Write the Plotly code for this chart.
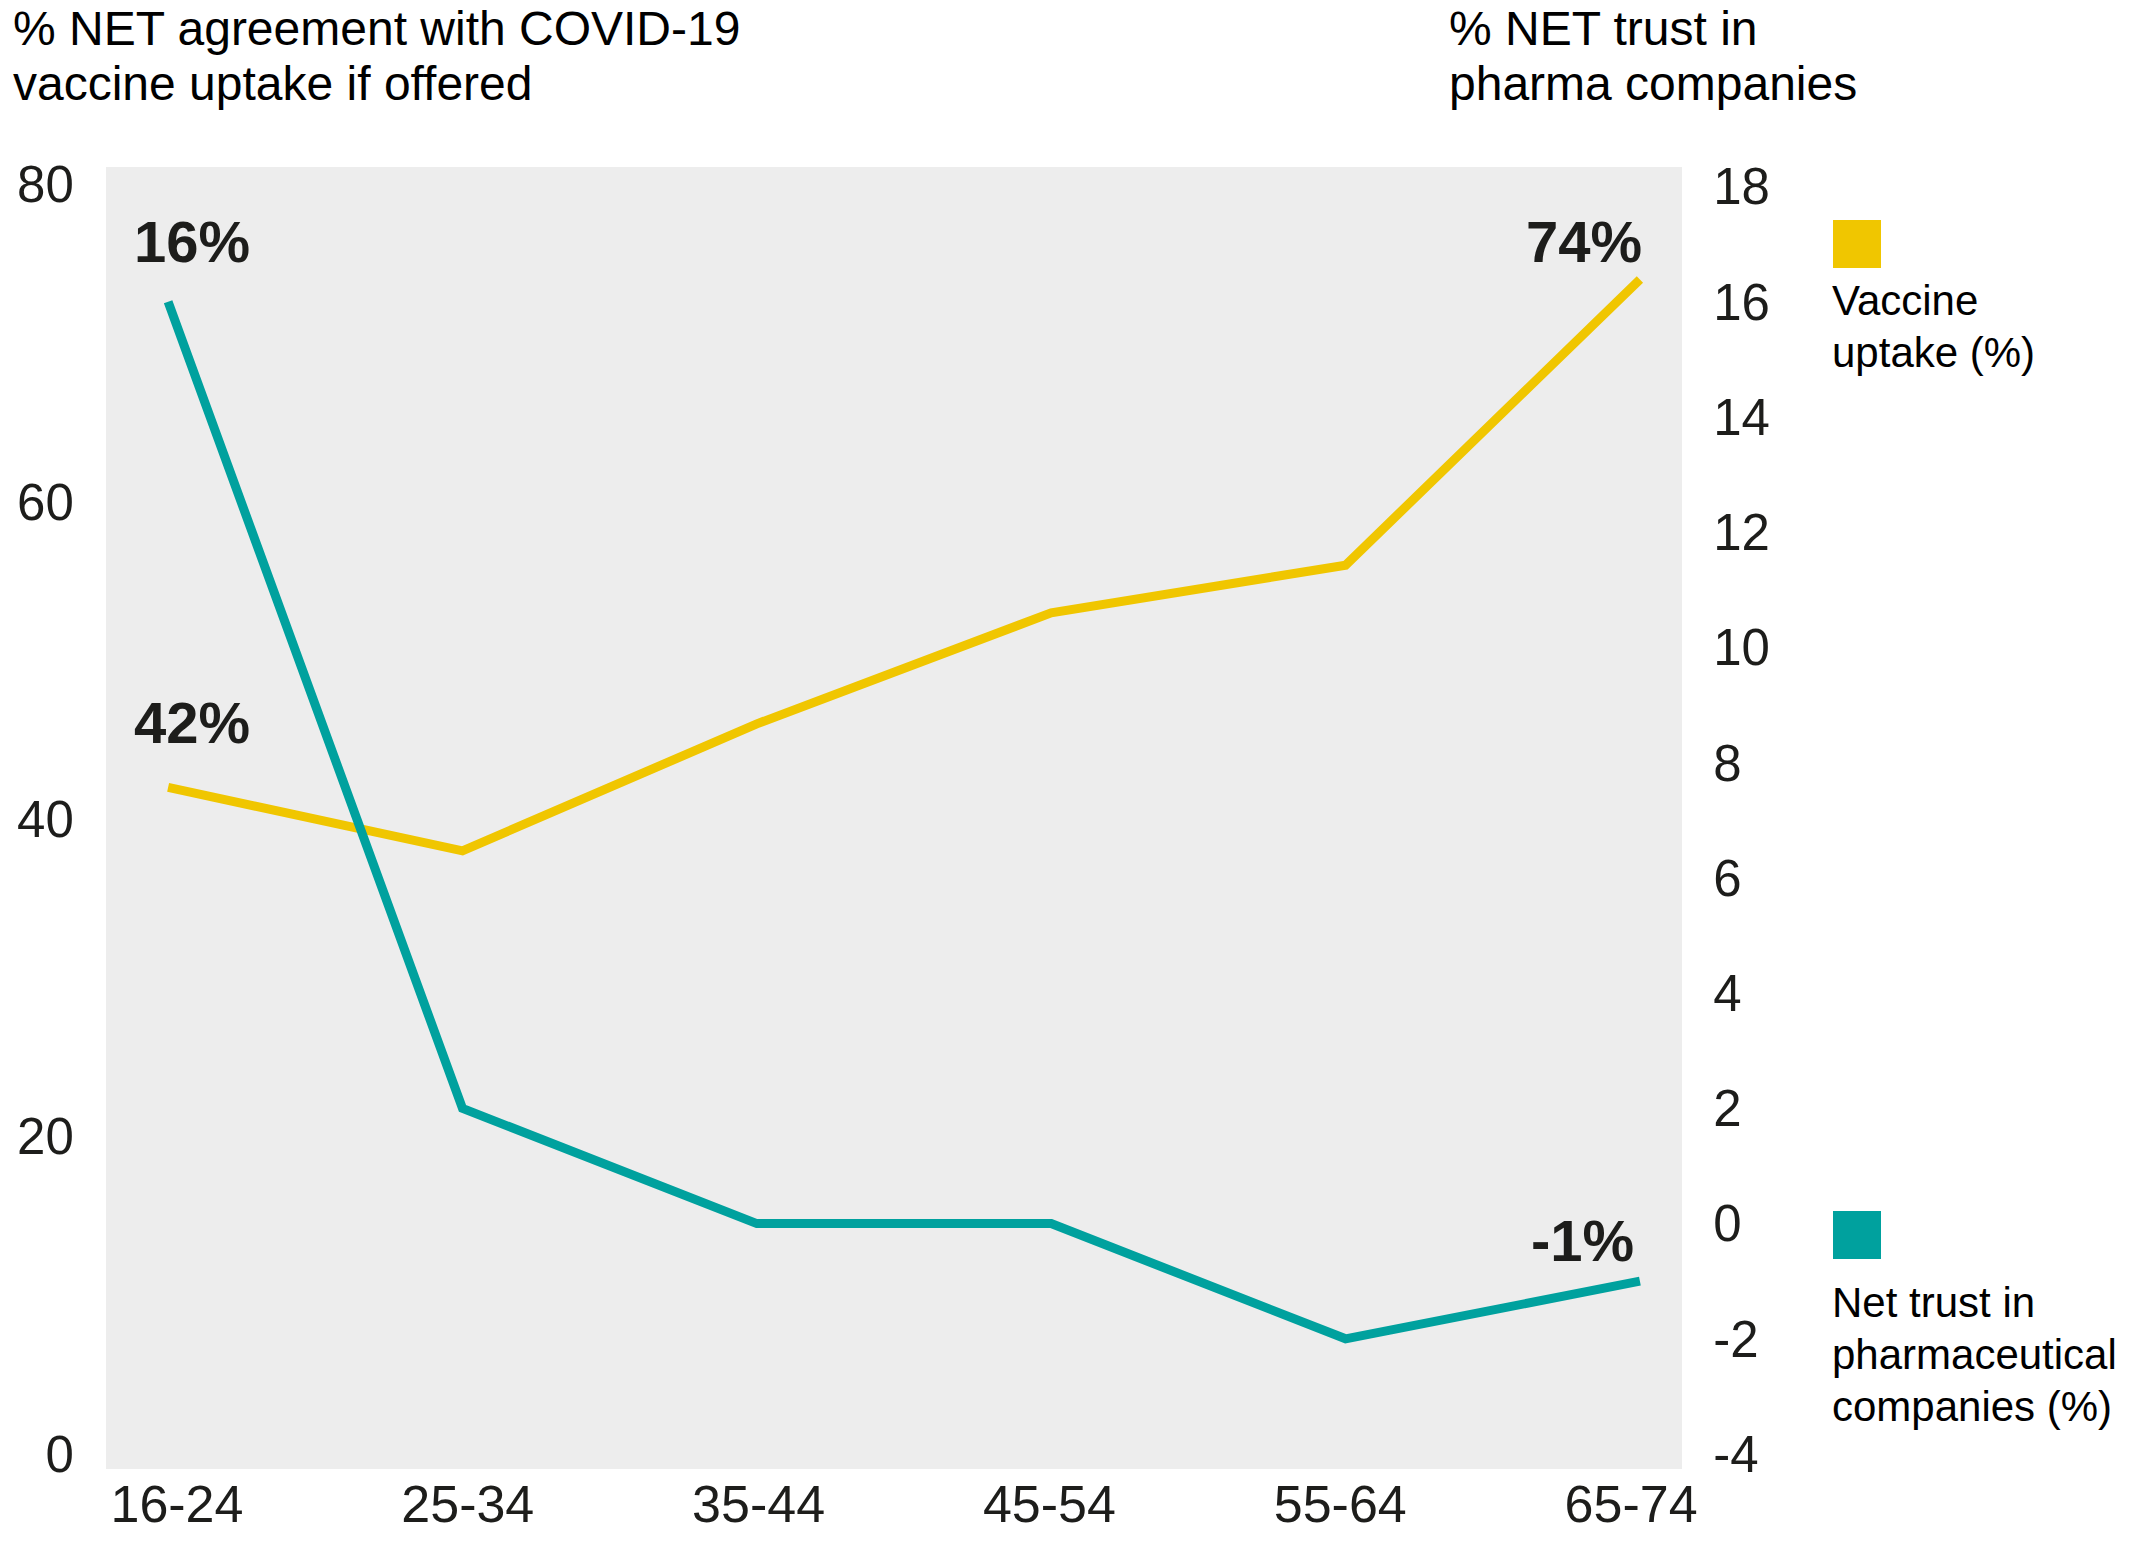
import plotly.graph_objects as go

# ---- data ----
age_groups = ["16-24", "25-34", "35-44", "45-54", "55-64", "65-74"]
vaccine_uptake = [42, 38, 46, 53, 56, 74]      # left axis (%)
net_trust = [16, 2, 0, 0, -2, -1]               # right axis (%)
left_ticks = [0, 20, 40, 60, 80]
right_ticks = [-4, -2, 0, 2, 4, 6, 8, 10, 12, 14, 16, 18]
left_title = ["% NET agreement with COVID-19", "vaccine uptake if offered"]
right_title = ["% NET trust in", "pharma companies"]
legend_vaccine = ["Vaccine", "uptake (%)"]
legend_trust = ["Net trust in", "pharmaceutical", "companies (%)"]

YELLOW = "#F0C600"
TEAL = "#00A19E"
TEXT = "#1d1d1b"
FONT = "Liberation Sans, Arial, Helvetica, sans-serif"

W, H = 2131, 1547
L, R, T, B = 106, 1682, 167, 1469   # plot area in pixels


def px(xp):
    return (xp - L) / (R - L)


def py(yp):
    return (B - yp) / (B - T)


x_idx = list(range(len(age_groups)))

fig = go.Figure()
fig.add_trace(go.Scatter(x=x_idx, y=vaccine_uptake, mode="lines",
                         line=dict(color=YELLOW, width=9),
                         name="Vaccine uptake (%)", yaxis="y", hoverinfo="skip"))
fig.add_trace(go.Scatter(x=x_idx, y=net_trust, mode="lines",
                         line=dict(color=TEAL, width=9),
                         name="Net trust in pharmaceutical companies (%)",
                         yaxis="y2", hoverinfo="skip"))
# invisible trace on a label axis carrying the category tick labels
fig.add_trace(go.Scatter(x=x_idx, y=vaccine_uptake, mode="lines", xaxis="x2",
                         line=dict(width=0), opacity=0, showlegend=False,
                         hoverinfo="skip"))

annotations = []
lab_font = dict(size=58, color=TEXT, family=FONT)
# value labels
annotations.append(dict(x=0, y=net_trust[0], xref="x", yref="y2", text=f"<b>{net_trust[0]}%</b>",
                        xanchor="left", yanchor="middle", xshift=-36, yshift=60,
                        showarrow=False, font=lab_font))
annotations.append(dict(x=0, y=vaccine_uptake[0], xref="x", yref="y", text=f"<b>{vaccine_uptake[0]}%</b>",
                        xanchor="left", yanchor="middle", xshift=-36, yshift=65,
                        showarrow=False, font=lab_font))
annotations.append(dict(x=5, y=vaccine_uptake[5], xref="x", yref="y", text=f"<b>{vaccine_uptake[5]}%</b>",
                        xanchor="right", yanchor="middle", xshift=4, yshift=38,
                        showarrow=False, font=lab_font))
annotations.append(dict(x=5, y=net_trust[5], xref="x", yref="y2", text=f"<b>{net_trust[5]}%</b>",
                        xanchor="right", yanchor="middle", xshift=-4, yshift=41,
                        showarrow=False, font=lab_font))


def text_lines(lines, x_pix, top_pix, step, size):
    for i, line in enumerate(lines):
        annotations.append(dict(x=px(x_pix), y=py(top_pix + i * step), xref="paper", yref="paper",
                                text=line, xanchor="left", yanchor="top", align="left",
                                showarrow=False,
                                font=dict(size=size, color="#000000", family=FONT)))


# axis titles
text_lines(left_title, 11, 0, 55, 48)
text_lines(right_title, 1447, 0, 55, 48)
# custom legend
text_lines(legend_vaccine, 1830, 275, 52, 42)
text_lines(legend_trust, 1830, 1277, 52, 42)

shapes = [
    dict(type="rect", xref="paper", yref="paper", x0=px(1833), x1=px(1881),
         y0=py(268), y1=py(220), fillcolor=YELLOW, line=dict(width=0)),
    dict(type="rect", xref="paper", yref="paper", x0=px(1833), x1=px(1881),
         y0=py(1259), y1=py(1211), fillcolor=TEAL, line=dict(width=0)),
]

fig.update_layout(
    width=W, height=H,
    margin=dict(l=L, r=W - R, t=T, b=H - B, pad=0, autoexpand=False),
    paper_bgcolor="#FFFFFF",
    plot_bgcolor="#EDEDED",
    showlegend=False,
    font=dict(family=FONT, color=TEXT),
    xaxis=dict(
        range=[-0.211, 5.143], showticklabels=False,
        showgrid=False, zeroline=False, showline=False, automargin=False, ticks="",
    ),
    xaxis2=dict(
        range=[-0.244, 5.175], overlaying="x", side="bottom",
        tickmode="array", tickvals=x_idx, ticktext=age_groups,
        showgrid=False, zeroline=False, showline=False, automargin=False,
        ticks="", tickfont=dict(size=52, color=TEXT, family=FONT),
    ),
    yaxis=dict(
        range=[-0.95, 81.09], tickmode="array", tickvals=left_ticks,
        ticktext=[str(v) for v in left_ticks],
        showgrid=False, zeroline=False, showline=False, automargin=False,
        ticks="outside", ticklen=21, tickcolor="rgba(0,0,0,0)",
        tickfont=dict(size=51, color=TEXT, family=FONT),
    ),
    yaxis2=dict(
        range=[-4.26, 18.34], tickmode="array", tickvals=right_ticks,
        ticktext=[str(v) for v in right_ticks],
        overlaying="y", side="right",
        showgrid=False, zeroline=False, showline=False, automargin=False,
        ticks="outside", ticklen=20, tickcolor="rgba(0,0,0,0)",
        tickfont=dict(size=51, color=TEXT, family=FONT),
    ),
    annotations=annotations,
    shapes=shapes,
)

fig.write_html(
    "out.html",
    config={"displayModeBar": False},
    post_script="document.body.style.margin='0';document.body.style.overflow='hidden';",
)
